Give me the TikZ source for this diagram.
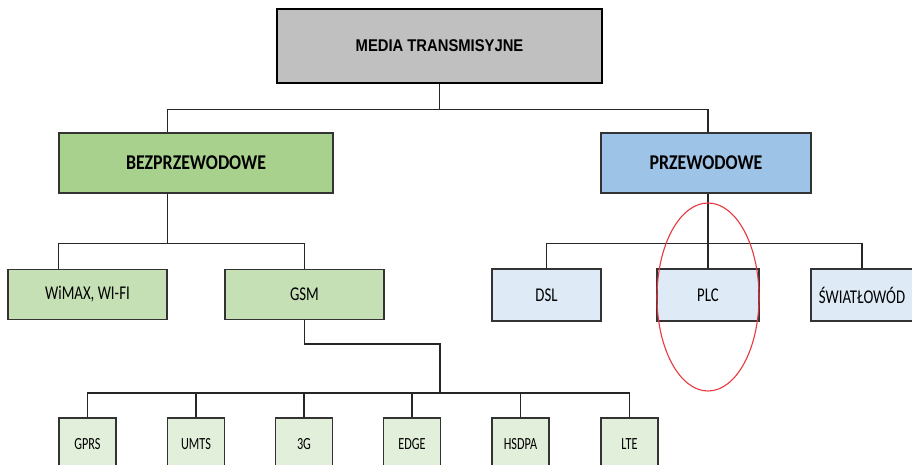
\documentclass[tikz,border=0pt]{standalone}
\usepackage{fontspec}
\setmainfont{Carlito}[FakeStretch=0.76]
\newfontfamily\arialfont{Liberation Sans}[FakeStretch=0.87]
\newfontfamily\groupfont{Carlito}[FakeStretch=0.85]
\newfontfamily\leaffont{Carlito}[FakeStretch=0.72]
\definecolor{mediagray}{HTML}{C0C0C0}
\definecolor{wirelessgreen}{HTML}{A9D18E}
\definecolor{lightgreen}{HTML}{C5E0B4}
\definecolor{palegreen}{HTML}{E2EFDA}
\definecolor{wiredblue}{HTML}{9DC3E6}
\definecolor{paleblue}{HTML}{DEEBF7}
\definecolor{ringred}{HTML}{E8383D}
\tikzset{
  box/.style={draw=black!80, line width=1.1pt, inner sep=0pt, minimum height=50pt,
    font=\fontsize{19.5}{22}\selectfont},
  headbox/.style={box, draw=black, line width=2.6pt, fill=mediagray,
    font=\arialfont\bfseries\fontsize{17}{20}\selectfont},
  groupbox/.style={box, minimum height=60pt, font=\groupfont\bfseries\fontsize{21}{24}\selectfont},
  leafbox/.style={box, fill=palegreen, minimum width=57pt, minimum height=52pt,
    font=\leaffont\fontsize{17}{20}\selectfont},
  link/.style={draw=black!85, line width=1.2pt},
  bar/.style={link, line width=1.8pt},
  ring/.style={draw=ringred, line width=1.1pt}
}
\begin{document}
\begin{tikzpicture}[x=1pt,y=-1pt]
\fill[white] (0,0) rectangle (912,465);
\useasboundingbox (0,0) rectangle (912,465);
\clip (0,0) rectangle (912,465);

% top
\node[headbox, minimum width=325pt, minimum height=74pt] (media) at (439.5,46) {MEDIA TRANSMISYJNE};

% second level
\node[groupbox, fill=wirelessgreen, minimum width=274pt] (bez) at (196,163) {BEZPRZEWODOWE};
\node[groupbox, fill=wiredblue, minimum width=210pt] (prz) at (706,163) {PRZEWODOWE};

% wireless
\node[box, fill=lightgreen, minimum width=159pt] (wimax) at (87.5,294.5) {WiMAX, WI-FI};
\node[box, fill=lightgreen, minimum width=159pt] (gsm) at (304.5,294.5) {GSM};

% wired
\node[box, fill=paleblue, minimum width=109pt, minimum height=52pt] (dsl) at (546.5,295) {DSL};
\node[box, fill=paleblue, minimum width=102pt, minimum height=52pt] (plc) at (708,295) {PLC};
\node[box, fill=paleblue, minimum width=102pt, minimum height=52pt] (swiat) at (862,295) {ŚWIATŁOWÓD};

% GSM standards
\foreach \name/\x/\label in {gprs/87.5/GPRS, umts/196/UMTS, g3/304/3G, edge/412/EDGE, hsdpa/520.5/HSDPA, lte/629.5/LTE}
  \node[leafbox] (\name) at (\x,444) {\label};

% tree lines
\draw[link] (media.south) -- ++(0,25) coordinate (hub);
\draw[link] (bez.north -| wimax.east) |- (hub) -| (prz.north -| plc.north);

\draw[link] (bez.south -| wimax.east) -- ++(0,50) coordinate (bhub);
\draw[bar] (wimax.north -| bez.west) |- (bhub) -| (gsm.north);

\draw[link] (prz.south -| plc.north) -- (plc.north);
\draw[bar] (dsl.north) |- (plc.north |- bhub) -| (swiat.north);

\coordinate (gbar) at (440,393);
\draw[bar] (gsm.south) -- ++(0,24) -| (gbar);
\draw[link] (gprs.north) |- (lte.north |- gbar) -- (lte.north);
\foreach \name in {umts,g3,edge,hsdpa}
  \draw[link] (\name.north) -- (\name.north |- gbar);

% mark
\draw[ring] (plc.center) ++(0,2) ellipse [x radius=51pt, y radius=94pt];
\end{tikzpicture}
\end{document}
